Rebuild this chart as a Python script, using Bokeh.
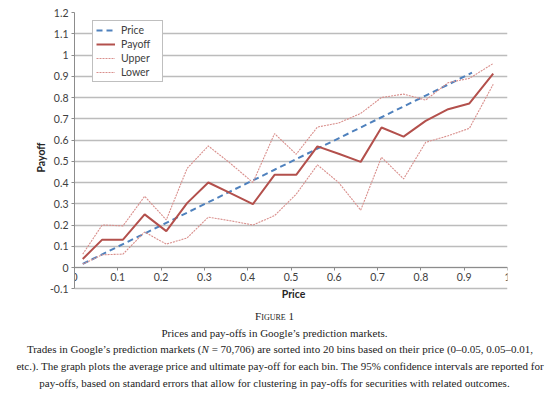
from bokeh.plotting import figure
from bokeh.layouts import column
from bokeh.models import Range1d, FixedTicker, CustomJSTickFormatter, Label, Legend, LegendItem, Div
from bokeh.embed import file_html
from bokeh.resources import INLINE

# ---- data ----
bin_price = [0.019, 0.064, 0.112, 0.162, 0.212, 0.260, 0.309, 0.360, 0.412, 0.462,
             0.512, 0.561, 0.610, 0.661, 0.709, 0.760, 0.811, 0.863, 0.912, 0.967]
price_x = [0.019, 0.064, 0.112, 0.162, 0.212, 0.260, 0.309, 0.360, 0.412, 0.462,
           0.512, 0.561, 0.610, 0.661, 0.709, 0.760, 0.811, 0.863, 0.918]
price = [0.017, 0.062, 0.110, 0.160, 0.210, 0.258, 0.307, 0.358, 0.410, 0.460,
         0.510, 0.559, 0.608, 0.659, 0.707, 0.758, 0.809, 0.861, 0.917]
payoff = [0.040, 0.131, 0.131, 0.250, 0.171, 0.303, 0.400, 0.350, 0.298, 0.436,
          0.436, 0.570, 0.535, 0.497, 0.659, 0.616, 0.690, 0.745, 0.772, 0.912]
upper = [0.063, 0.200, 0.196, 0.335, 0.224, 0.466, 0.572, 0.490, 0.400, 0.630,
         0.533, 0.661, 0.680, 0.725, 0.800, 0.816, 0.788, 0.870, 0.890, 0.960]
lower = [0.016, 0.060, 0.063, 0.167, 0.110, 0.139, 0.237, 0.220, 0.200, 0.244,
         0.345, 0.483, 0.400, 0.270, 0.519, 0.417, 0.589, 0.620, 0.655, 0.862]

x_ticks = [0, 0.1, 0.2, 0.3, 0.4, 0.5, 0.6, 0.7, 0.8, 0.9, 1.0]
y_ticks = [-0.1, 0, 0.1, 0.2, 0.3, 0.4, 0.5, 0.6, 0.7, 0.8, 0.9, 1.0, 1.1, 1.2]
series_names = ["Price", "Payoff", "Upper", "Lower"]
x_title = "Price"
y_title = "Payoff"
fig_label = "Figure 1"
caption_lines = [
    "Prices and pay-offs in Google\u2019s prediction markets.",
    "Trades in Google\u2019s prediction markets (N = 70,706) are sorted into 20 bins based on their price (0\u20130.05, 0.05\u20130.01,",
    "etc.). The graph plots the average price and ultimate pay-off for each bin. The 95% confidence intervals are reported for",
    "pay-offs, based on standard errors that allow for clustering in pay-offs for securities with related outcomes.",
]

SANS = "Lato"
TXT = "#404040"

W = 549
H_CHART = 302
H_CAP = 97
FRAME_TOP = 12
PX_PER_UNIT = 212.5
y_lo = 1.2 - (H_CHART - FRAME_TOP) / PX_PER_UNIT   # frame reaches the chart bottom (room for "Price")

p = figure(width=W, height=H_CHART, output_backend="svg", toolbar_location=None,
           x_range=Range1d(0, 1), y_range=Range1d(y_lo, 1.2),
           min_border_left=74, min_border_right=42, min_border_top=FRAME_TOP, min_border_bottom=0)
p.outline_line_color = None
p.background_fill_color = "white"
p.border_fill_color = "white"

fmt = CustomJSTickFormatter(code="return String(Math.round(tick*10)/10);")

# y axis
p.yaxis.ticker = FixedTicker(ticks=y_ticks)
p.yaxis.bounds = (y_ticks[0], y_ticks[-1])
p.yaxis.formatter = fmt
p.yaxis.axis_label = y_title
p.yaxis.axis_label_text_font = SANS
p.yaxis.axis_label_text_font_size = "10.5px"
p.yaxis.axis_label_text_font_style = "bold"
p.yaxis.axis_label_text_color = "#262626"
p.yaxis.axis_label_standoff = 0
p.yaxis.major_label_text_font = SANS
p.yaxis.major_label_text_font_size = "10.5px"
p.yaxis.major_label_text_color = TXT
p.yaxis.major_label_standoff = 3
p.yaxis.axis_line_color = "#8c8c8c"
p.yaxis.major_tick_line_color = "#8c8c8c"
p.yaxis.major_tick_in = 0
p.yaxis.major_tick_out = 3
p.yaxis.minor_tick_line_color = None

# x axis at y = 0
p.xaxis.ticker = FixedTicker(ticks=x_ticks)
p.xaxis.formatter = fmt
p.xaxis.fixed_location = 0
p.xaxis.major_label_text_font = SANS
p.xaxis.major_label_text_font_size = "10.5px"
p.xaxis.major_label_text_color = TXT
p.xaxis.major_label_standoff = 2
p.xaxis.axis_line_color = "#8c8c8c"
p.xaxis.major_tick_line_color = "#8c8c8c"
p.xaxis.major_tick_in = 0
p.xaxis.major_tick_out = 3
p.xaxis.minor_tick_line_color = None

p.xgrid.visible = False
p.ygrid.grid_line_color = "#bcbcbc"
p.ygrid.grid_line_width = 1.6

r_price = p.line(price_x, price, line_color="#4f81bd", line_width=2, line_dash="6 4")
r_pay = p.line(bin_price, payoff, line_color="#b3504c", line_width=2)
r_up = p.line(bin_price, upper, line_color="#d98f8c", line_width=1.1, line_dash="2 1")
r_lo = p.line(bin_price, lower, line_color="#d98f8c", line_width=1.1, line_dash="2 1")

legend = Legend(items=[LegendItem(label=series_names[0], renderers=[r_price]),
                       LegendItem(label=series_names[1], renderers=[r_pay]),
                       LegendItem(label=series_names[2], renderers=[r_up]),
                       LegendItem(label=series_names[3], renderers=[r_lo])],
                location=(18, H_CHART - 82))
legend.label_text_font = SANS
legend.label_text_font_size = "10.5px"
legend.label_text_color = TXT
legend.glyph_width = 19
legend.glyph_height = 12
legend.label_height = 12
legend.label_width = 38
legend.label_standoff = 6
legend.spacing = 2
legend.padding = 3
legend.margin = 0
legend.border_line_color = "#7f7f7f"
legend.border_line_width = 1
legend.background_fill_color = "white"
legend.background_fill_alpha = 1
p.add_layout(legend)

# x axis title (screen units relative to the frame's bottom-left corner)
p.add_layout(Label(x=219, y=H_CHART - 293.5, x_units="screen", y_units="screen", text=x_title,
                   text_font=SANS, text_font_size="10.5px", text_font_style="bold",
                   text_color="#262626", text_align="center", text_baseline="middle"))

# ---- caption below the chart (real HTML text) ----
def esc(s):
    return s.replace("&", "&amp;").replace("<", "&lt;").replace(">", "&gt;")

line_html = [esc(t) for t in caption_lines]
line_html[1] = line_html[1].replace("(N =", "(<i>N</i> =")
pads = [0, 11, 11, 0]
rows = ['<div style="text-align:center;font-variant:small-caps;">%s</div>' % esc(fig_label)]
for h, pl in zip(line_html, pads):
    rows.append('<div style="text-align:center;white-space:nowrap;padding-left:%dpx;">%s</div>' % (pl, h))
cap_html = ('<div style="font-family:\'Liberation Serif\',serif;font-size:11px;color:#222222;'
            'line-height:16.7px;width:%dpx;padding-top:6px;">%s</div>' % (W, "".join(rows)))
cap = Div(text=cap_html, width=W, height=H_CAP, margin=0)

layout = column(p, cap, spacing=0)
open("out.html", "w").write(file_html(layout, INLINE))
